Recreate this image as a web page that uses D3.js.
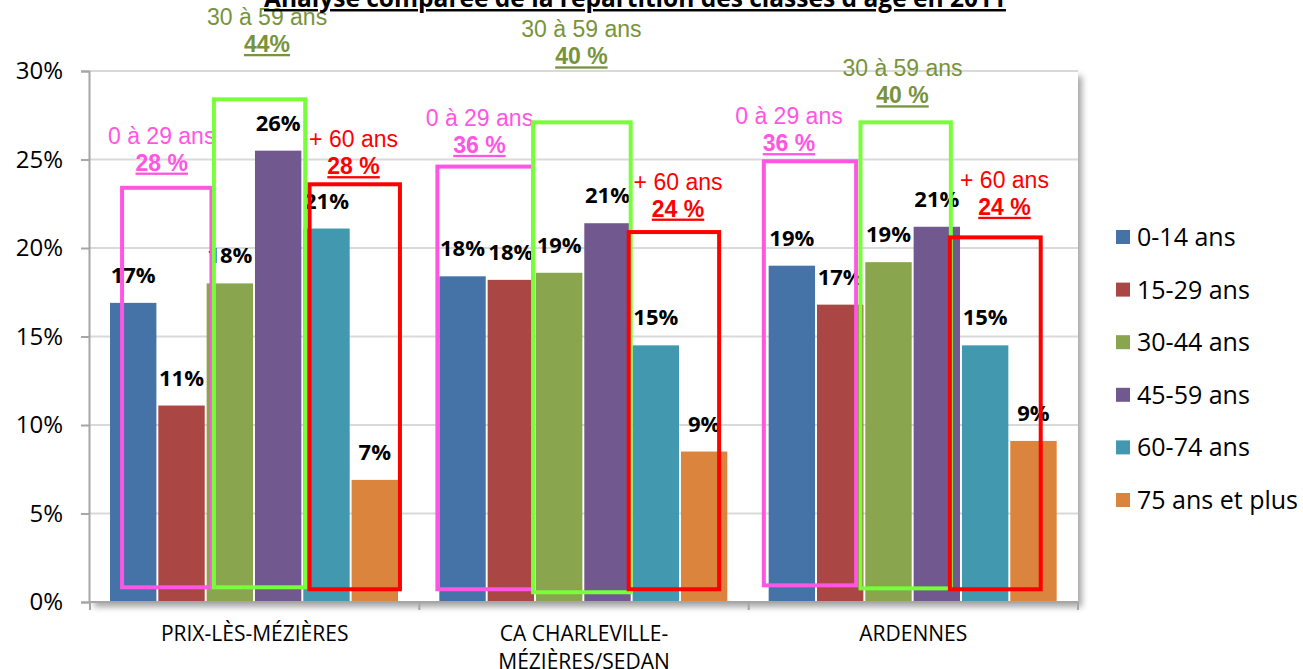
<!DOCTYPE html>
<html>
<head>
<meta charset="utf-8">
<script src="https://cdn.jsdelivr.net/npm/d3@7"></script>
<style>
  body { margin: 0; background: #fff; }
  svg { display: block; }
</style>
</head>
<body>
<svg id="chart" width="1303" height="669"></svg>
<script>
// categories (x axis) and age classes (series)
var categories = ["PRIX-LÈS-MÉZIÈRES", "CA CHARLEVILLE-MÉZIÈRES/SEDAN", "ARDENNES"];
var categoryLines = [["PRIX-LÈS-MÉZIÈRES"], ["CA CHARLEVILLE-", "MÉZIÈRES/SEDAN"], ["ARDENNES"]];
var series = ["0-14 ans", "15-29 ans", "30-44 ans", "45-59 ans", "60-74 ans", "75 ans et plus"];
var colors = ["#4572a7", "#aa4643", "#89a54e", "#71588f", "#4198af", "#db843d"];

// values in %, one array per series, in category order
var v0_14 = [16.9, 18.4, 19.0];
var v15_29 = [11.1, 18.2, 16.8];
var v30_44 = [18.0, 18.6, 19.2];
var v45_59 = [25.5, 21.4, 21.2];
var v60_74 = [21.1, 14.5, 14.5];
var v75 = [6.9, 8.5, 9.1];
var values = [v0_14, v15_29, v30_44, v45_59, v60_74, v75];

var yTicks = [0, 5, 10, 15, 20, 25, 30];

// hand drawn overlay: groups of age classes, per category
var annoNames = ["0 à 29 ans", "30 à 59 ans", "+ 60 ans"];
var annoTotals = [["28 %", "44%", "28 %"], ["36 %", "40 %", "24 %"], ["36 %", "40 %", "24 %"]];
var annoBoxColors = ["#ff55e3", "#77ff3a", "#ff0000"];
var annoTextColors = ["#ff55e3", "#77933c", "#ff0000"];
// box extents, in bar slots (0 = left of first bar) and in % on the value axis
var boxStart = [[0.25, 2.15, 4.13], [-0.04, 1.94, 3.92], [-0.10, 1.90, 3.75]];
var boxEnd = [[2.10, 4.04, 6.0], [1.94, 3.96, 5.79], [1.81, 3.77, 5.63]];
var boxTop = [[23.4, 28.4, 23.6], [24.6, 27.1, 20.9], [24.9, 27.1, 20.6]];
var boxBottom = [[0.83, 0.83, 0.72], [0.72, 0.55, 0.72], [0.94, 0.77, 0.72]];
var labelSlot = [[1.07, 3.25, 5.04], [0.83, 2.94, 4.94], [0.42, 2.77, 4.88]];
var labelLevel = [[25.9, 32.6, 25.7], [26.9, 31.9, 23.3], [27.0, 29.7, 23.4]];

var title = "Analyse comparée de la répartition des classes d'âge en 2011";

var svg = d3.select("#chart");
var pLeft = 90, pRight = 1078, pTop = 71, pBottom = 602;

var x0 = d3.scaleBand().domain(categories).range([pLeft, pRight]);
var x1 = d3.scaleBand().domain(series).range([20, 308]).paddingInner(0.04);
var slot = d3.scaleLinear().domain([0, 6]).range([20, 20 + 6 * x1.step()]);
var y = d3.scaleLinear().domain([0, 30]).range([pBottom, pTop]);

var defs = svg.append("defs");
var f = defs.append("filter").attr("id", "shadow")
  .attr("x", "-5%").attr("y", "-5%").attr("width", "115%").attr("height", "115%");
f.append("feDropShadow").attr("dx", 4).attr("dy", 5).attr("stdDeviation", 3)
  .attr("flood-color", "#000").attr("flood-opacity", 0.35);

// plot area
svg.append("rect")
  .attr("x", pLeft).attr("y", pTop)
  .attr("width", pRight - pLeft).attr("height", pBottom - pTop)
  .attr("fill", "#fff").attr("filter", "url(#shadow)");

// gridlines
svg.append("g").selectAll("line")
  .data(yTicks.slice(1))
  .enter().append("line")
  .attr("x1", pLeft).attr("x2", pRight)
  .attr("y1", function(d) { return y(d); })
  .attr("y2", function(d) { return y(d); })
  .attr("stroke", "#d9d9d9").attr("stroke-width", 2);

// y axis
var yAxis = svg.append("g")
  .attr("transform", "translate(" + (pLeft - 1) + ",0)")
  .call(d3.axisLeft(y).tickValues(yTicks).tickSize(8).tickPadding(18)
    .tickFormat(function(d) { return d + "%"; }));
yAxis.select(".domain").attr("stroke", "#a6a6a6").attr("stroke-width", 2);
yAxis.selectAll(".tick line").attr("stroke", "#a6a6a6").attr("stroke-width", 2);
yAxis.selectAll(".tick text")
  .attr("font-family", "Open Sans").attr("font-size", 24).attr("fill", "#000");

// bars
var groups = svg.append("g").selectAll("g")
  .data(categories)
  .enter().append("g")
  .attr("transform", function(d) { return "translate(" + x0(d) + ",0)"; });

groups.selectAll("rect")
  .data(function(d, ci) { return series.map(function(s, si) { return { s: s, si: si, v: values[si][ci] }; }); })
  .enter().append("rect")
  .attr("x", function(d) { return x1(d.s); })
  .attr("y", function(d) { return y(d.v); })
  .attr("width", x1.bandwidth())
  .attr("height", function(d) { return y(0) - y(d.v); })
  .attr("fill", function(d) { return colors[d.si]; });

groups.selectAll("text.val")
  .data(function(d, ci) { return series.map(function(s, si) { return { s: s, v: values[si][ci] }; }); })
  .enter().append("text")
  .attr("class", "val")
  .attr("x", function(d) { return x1(d.s) + x1.bandwidth() / 2; })
  .attr("y", function(d) { return y(d.v) - 20; })
  .attr("text-anchor", "middle")
  .attr("font-family", "Open Sans").attr("font-weight", "bold").attr("font-size", 22)
  .text(function(d) { return Math.round(d.v) + "%"; });

// x axis
var xAxis = svg.append("g")
  .attr("transform", "translate(0," + pBottom + ")");
xAxis.append("line").attr("x1", pLeft - 1).attr("x2", pRight)
  .attr("stroke", "#a6a6a6").attr("stroke-width", 2);
xAxis.selectAll("line.tk")
  .data(categories.concat([null]))
  .enter().append("line")
  .attr("class", "tk")
  .attr("x1", function(d) { return d ? x0(d) : pRight; })
  .attr("x2", function(d) { return d ? x0(d) : pRight; })
  .attr("y1", 0).attr("y2", 8)
  .attr("stroke", "#a6a6a6").attr("stroke-width", 2);
xAxis.selectAll("text")
  .data(categories)
  .enter().append("text")
  .attr("x", function(d) { return x0(d) + x0.bandwidth() / 2; })
  .attr("y", 39)
  .attr("text-anchor", "middle")
  .attr("font-family", "Open Sans").attr("font-size", 21)
  .each(function(d, i) {
    var t = d3.select(this);
    categoryLines[i].forEach(function(line, k) {
      t.append("tspan").attr("x", x0(d) + x0.bandwidth() / 2).attr("dy", k ? 28 : 0).text(line);
    });
  });

// overlay boxes and their captions
var anno = svg.append("g");
categories.forEach(function(cat, ci) {
  annoNames.forEach(function(name, ai) {
    var xa = x0(cat) + slot(boxStart[ci][ai]);
    var xb = x0(cat) + slot(boxEnd[ci][ai]);
    anno.append("rect")
      .attr("x", xa).attr("y", y(boxTop[ci][ai]))
      .attr("width", xb - xa)
      .attr("height", y(boxBottom[ci][ai]) - y(boxTop[ci][ai]))
      .attr("fill", "none")
      .attr("stroke", annoBoxColors[ai]).attr("stroke-width", 4);
    var lx = x0(cat) + slot(labelSlot[ci][ai]);
    var lyv = y(labelLevel[ci][ai]);
    anno.append("text")
      .attr("x", lx).attr("y", lyv)
      .attr("text-anchor", "middle")
      .attr("font-family", "Liberation Sans").attr("font-size", 23)
      .attr("fill", annoTextColors[ai])
      .text(name);
    anno.append("text")
      .attr("x", lx).attr("y", lyv + 27)
      .attr("text-anchor", "middle")
      .attr("font-family", "Liberation Sans").attr("font-size", 23)
      .attr("font-weight", "bold")
      .attr("text-decoration", "underline")
      .attr("fill", annoTextColors[ai])
      .text(annoTotals[ci][ai]);
  });
});

// legend
var legendY = d3.scalePoint().domain(series).range([237, 500]);
var legend = svg.append("g").selectAll("g")
  .data(series)
  .enter().append("g")
  .attr("transform", function(d) { return "translate(1116," + legendY(d) + ")"; });
legend.append("rect")
  .attr("x", 0).attr("y", -7)
  .attr("width", 14).attr("height", 14)
  .attr("fill", function(d, i) { return colors[i]; });
legend.append("text")
  .attr("x", 21).attr("y", 9)
  .attr("font-family", "Open Sans").attr("font-size", 25)
  .text(function(d) { return d; });

// title, cut at the top edge
svg.append("text")
  .attr("x", 635).attr("y", 7)
  .attr("text-anchor", "middle")
  .attr("font-family", "Open Sans").attr("font-weight", "bold").attr("font-size", 24.5)
  .attr("text-decoration", "underline")
  .text(title);
</script>
</body>
</html>
